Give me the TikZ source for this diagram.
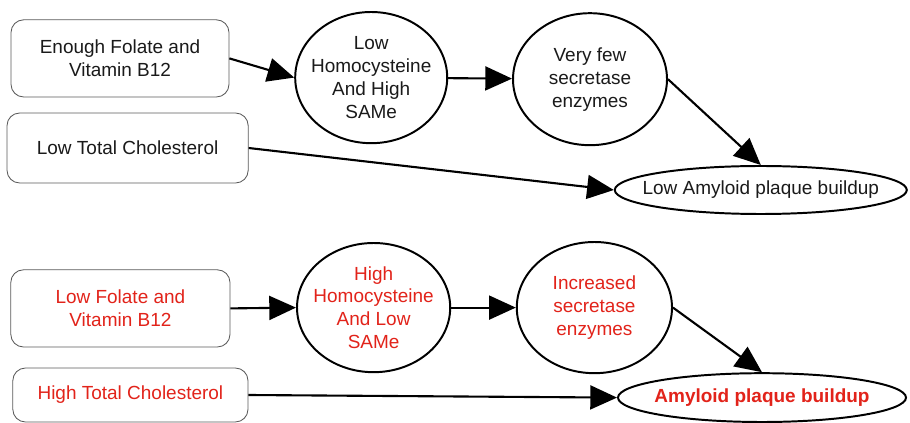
\documentclass[tikz,border=0pt]{standalone}
\usepackage{fontspec}
\setmainfont{Liberation Sans}
\usetikzlibrary{arrows.meta,shapes.geometric}
\definecolor{ink}{HTML}{1A1A1A}
\definecolor{frame}{HTML}{5A5A5A}
\definecolor{alarm}{HTML}{E2231A}
\newcommand{\fsz}{\fontsize{13.5}{16.3}\selectfont}
\tikzset{
  factor/.style={draw=frame, fill=white, rounded corners=9pt, align=center,
                 line width=0.6pt, inner sep=0pt, text=ink, font=\fsz},
  stage/.style={ellipse, draw=black, fill=white, line width=1.4pt, align=center,
                inner xsep=-4mm, inner ysep=0pt, text=ink, font=\fsz},
  ar/.style={-{Triangle[length=19pt, width=17pt]}, line width=1.5pt, draw=black},
  badtxt/.style={text=alarm}
}

\begin{document}
\begin{tikzpicture}
  \useasboundingbox (0,0) rectangle (22.75,-10.575);

  % healthy path
  \node[factor, minimum width=5.45cm, minimum height=1.93cm] (folateok) at (3.0,-1.46) {Enough Folate and\\Vitamin B12};
  \node[factor, minimum width=6.03cm, minimum height=1.75cm] (cholok) at (3.19,-3.7) {Low Total Cholesterol};
  \node[stage, minimum width=3.8cm, minimum height=3.28cm] (homook) at (9.28,-1.94) {Low\\Homocysteine\\And High\\SAMe};
  \node[stage, minimum width=3.85cm, minimum height=3.3cm] (secrok) at (14.75,-1.98) {Very few\\secretase\\enzymes};
  \node[stage, minimum width=7.3cm, minimum height=1.2cm] (plaqueok) at (19.02,-4.75) {Low Amyloid plaque buildup};

  \draw[ar] (folateok.east) -- (homook.west);
  \draw[ar] (homook) -- (secrok);
  \draw[ar] (secrok.east) -- (plaqueok.north);
  \draw[ar] (cholok.east) -- (plaqueok.west);

  % unhealthy path
  \node[factor, badtxt, minimum width=5.48cm, minimum height=1.93cm] (folatebad) at (3.01,-7.71) {Low Folate and\\Vitamin B12};
  \node[factor, badtxt, minimum width=5.88cm, minimum height=1.35cm] (cholbad) at (3.26,-9.875) {High Total Cholesterol};
  \node[stage, badtxt, minimum width=3.83cm, minimum height=3.23cm] (homobad) at (9.34,-7.69) {High\\Homocysteine\\And Low\\SAMe};
  \node[stage, badtxt, minimum width=3.88cm, minimum height=3.28cm] (secrbad) at (14.86,-7.69) {Increased\\secretase\\enzymes};
  \node[stage, badtxt, font=\fsz\bfseries, minimum width=7.2cm, minimum height=1.22cm] (plaquebad) at (19.05,-9.94) {Amyloid plaque buildup};

  \draw[ar] (folatebad.east) -- (homobad.west);
  \draw[ar] (homobad) -- (secrbad);
  \draw[ar] (secrbad.east) -- (plaquebad.north);
  \draw[ar] (cholbad.east) -- (plaquebad.west);
\end{tikzpicture}
\end{document}
